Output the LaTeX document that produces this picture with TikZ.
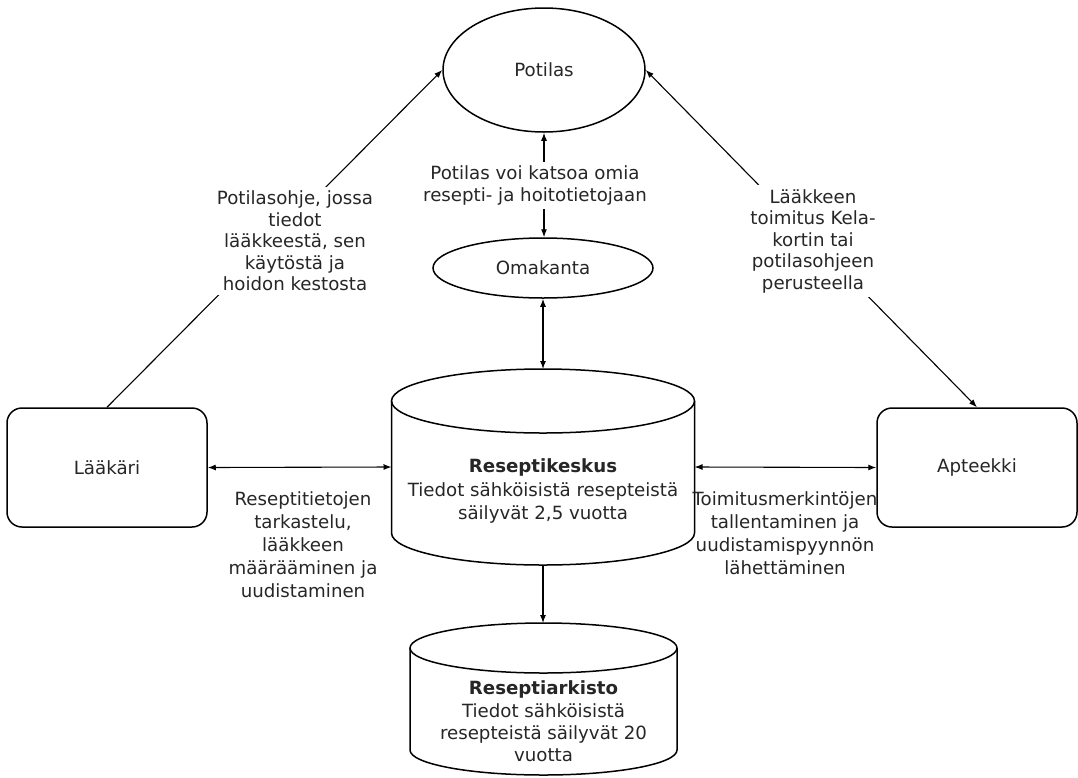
\documentclass[tikz,border=0pt]{standalone}
\usepackage{fontspec}
\setmainfont{DejaVu Sans}
\usetikzlibrary{arrows.meta,shapes.geometric}
\begin{document}
\begin{tikzpicture}[x=1pt,y=-1pt,
  >={Latex[length=8pt,width=6pt]},
  shp/.style={draw=black, line width=1.5pt},
  conn/.style={draw=black, line width=1.1pt},
  txt/.style={text=black!85, font=\fontsize{18.2}{21.5}\selectfont, align=center, inner sep=0pt},
  lbl/.style={txt, fill=white, inner sep=4pt},
  rbox/.style={shp, rounded corners=15pt, minimum width=200, minimum height=119, inner sep=0pt, txt},
  hole/.style={inner sep=0pt, outer sep=0pt}
]
\fill[white] (0,0) rectangle (1078,777);
\useasboundingbox (0,0) rectangle (1078,777);

% ellipses
\node[shp, ellipse, minimum width=202, minimum height=124, inner sep=0pt, txt] (pot) at (544,70) {Potilas};
\node[shp, ellipse, minimum width=220, minimum height=60, inner sep=0pt, txt] (oma) at (543,268) {Omakanta};

% rounded boxes
\node[rbox] (lak) at (107,467.5) {Lääkäri};
\node[rbox] (apt) at (977,467.5) {Apteekki};

% cylinders (outline drawn directly, node gives anchors)
\node[hole, minimum width=303, minimum height=196] (rk) at (543,467) {};
\draw[shp] (543,401) ellipse [x radius=151.5, y radius=32];
\draw[shp] (391.5,401) -- (391.5,533) arc[start angle=180, end angle=0, x radius=151.5, y radius=32] -- (694.5,401);
\node[txt, font=\fontsize{18.2}{23.5}\selectfont] (rkt) at (543,491) {\textbf{Reseptikeskus}\\Tiedot sähköisistä resepteistä\\säilyvät 2,5 vuotta};

\node[hole, minimum width=267, minimum height=152] (ra) at (543.5,699) {};
\draw[shp] (543.5,648) ellipse [x radius=133.5, y radius=25];
\draw[shp] (410,648) -- (410,750) arc[start angle=180, end angle=0, x radius=133.5, y radius=25] -- (677,648);
\node[txt, font=\fontsize{18.2}{22.3}\selectfont] (rat) at (543.5,721.5) {\textbf{Reseptiarkisto}\\Tiedot sähköisistä\\resepteistä säilyvät 20\\vuotta};

% connectors
\draw[conn,<->] (pot.south) -- (pot.south |- oma.north);
\draw[conn,<->] (oma.south) -- (oma.south |- rk.north);
\draw[conn,<->] (lak.east) -- (rk.west);
\draw[conn,<->] (rk.east) -- (apt.west);
\draw[conn,->] (rk.south) -- (rk.south |- ra.north);
\draw[conn,->] (lak.north) -- (pot.west);
\draw[conn,<->] (apt.north) -- (pot.east);

% labels
\node[lbl] (l1) at (535,185.5) {Potilas voi katsoa omia\\resepti- ja hoitotietojaan};
\node[lbl] (l2) at (295,241) {Potilasohje, jossa\\tiedot\\lääkkeestä, sen\\käytöstä ja\\hoidon kestosta};
\node[lbl] (l3) at (813,241) {Lääkkeen\\toimitus Kela-\\kortin tai\\potilasohjeen\\perusteella};
\node[txt, font=\fontsize{18.2}{23}\selectfont] (l4) at (303,545) {Reseptitietojen\\tarkastelu,\\lääkkeen\\määrääminen ja\\uudistaminen};
\node[txt, font=\fontsize{18.2}{23}\selectfont] (l5) at (785,533) {Toimitusmerkintöjen\\tallentaminen ja\\uudistamispyynnön\\lähettäminen};
\end{tikzpicture}
\end{document}
